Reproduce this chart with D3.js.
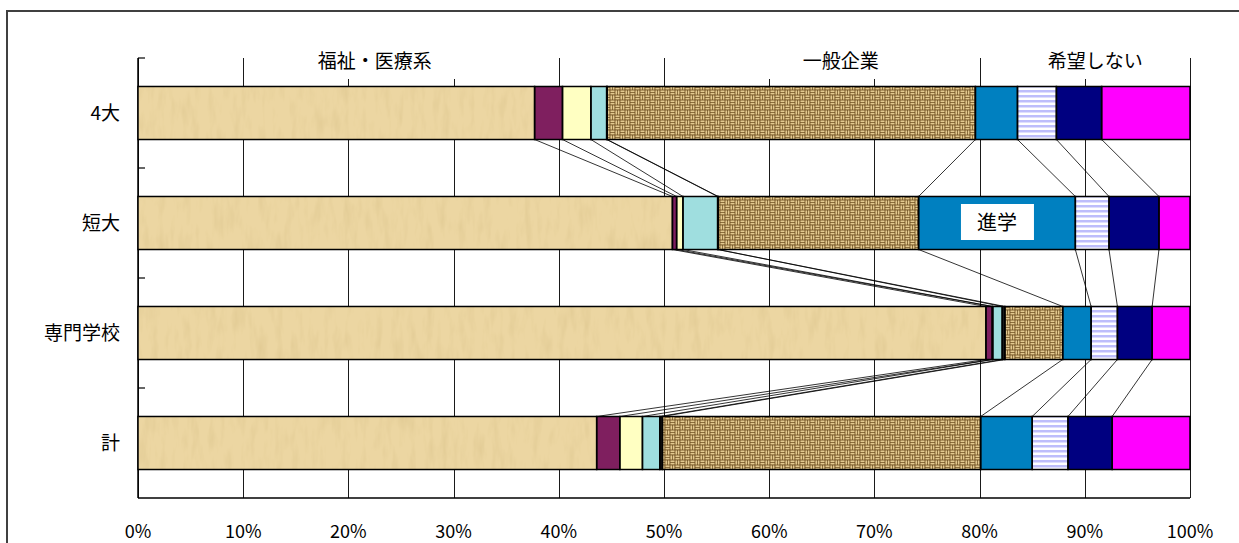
<!DOCTYPE html>
<html><head><meta charset="utf-8">
<script src="https://cdn.jsdelivr.net/npm/d3@7"></script>
<style>
body{margin:0;background:#fff}
svg{display:block}
text{font-family:"Noto Sans CJK JP","Noto Sans",sans-serif;fill:#000}
</style>
</head><body>
<svg id="chart" width="1239" height="543"></svg>
<script>
// ---- data ----
const categories = ["4大", "短大", "専門学校", "計"];
const seriesKeys = ["福祉医療A", "福祉医療B", "福祉医療C", "福祉医療D", "福祉医療E", "一般企業", "進学", "進学その他", "未定", "希望しない"];
const fukushiA   = [37.7, 50.8, 80.6, 43.6];
const fukushiB   = [2.65, 0.4, 0.6, 2.2];
const fukushiC   = [2.7, 0.6, 0.05, 2.15];
const fukushiD   = [1.5, 3.3, 0.9, 1.65];
const fukushiE   = [0.05, 0.05, 0.25, 0.25];
const ippan      = [35.0, 19.05, 5.5, 30.25];
const shingaku   = [4.0, 14.9, 2.7, 4.9];
const sonota     = [3.7, 3.2, 2.5, 3.4];
const mitei      = [4.3, 4.75, 3.3, 4.2];
const kibouNashi = [8.4, 2.95, 3.6, 7.4];
const xTickValues = [0, 10, 20, 30, 40, 50, 60, 70, 80, 90, 100];
const xTickLabels = ["0%", "10%", "20%", "30%", "40%", "50%", "60%", "70%", "80%", "90%", "100%"];
const groupLabels = ["福祉・医療系", "一般企業", "希望しない"];
const groupLabelValues = [22.5, 66.8, 91.0];
const innerLabel = "進学";

// ---- build table ----
const seriesArrays = [fukushiA, fukushiB, fukushiC, fukushiD, fukushiE, ippan, shingaku, sonota, mitei, kibouNashi];
const table = categories.map((c, i) => {
  const row = {cat: c};
  seriesKeys.forEach((k, j) => row[k] = seriesArrays[j][i]);
  return row;
});
const stacked = d3.stack().keys(seriesKeys)(table);

const fills = ["url(#parch)", "#7F1F5F", "#FFFFC2", "#9FDEDF", "#1a1a1a", "url(#weave)", "#0080C0", "url(#stripe)", "#000080", "#FF00FF"];

// ---- layout ----
const svg = d3.select("#chart");
const x = d3.scaleLinear().domain([0, 100]).range([138, 1190]);
const y = d3.scaleBand().domain(categories).range([58, 498]).paddingInner(0.518).paddingOuter(0.259);

// defs
const defs = svg.append("defs");
const fp = defs.append("filter").attr("id", "parchF").attr("x", 0).attr("y", 0).attr("width", 1).attr("height", 1);
fp.append("feTurbulence").attr("type", "fractalNoise").attr("baseFrequency", "0.12 0.03").attr("numOctaves", 3).attr("seed", 4).attr("result", "n");
fp.append("feColorMatrix").attr("in", "n").attr("type", "matrix")
  .attr("values", "0 0 0 0 0.76  0 0 0 0 0.60  0 0 0 0 0.30  2.0 0 0 0 -0.90").attr("result", "s");
fp.append("feComposite").attr("in", "s").attr("in2", "SourceGraphic").attr("operator", "atop");
const pp = defs.append("pattern").attr("id", "parch").attr("patternUnits", "userSpaceOnUse").attr("width", 1239).attr("height", 543);
pp.append("rect").attr("width", 1239).attr("height", 543).attr("fill", "#ECD6A2").attr("filter", "url(#parchF)");

const T = 10, h = T / 2;
const pw = defs.append("pattern").attr("id", "weave").attr("patternUnits", "userSpaceOnUse").attr("width", T).attr("height", T);
pw.append("rect").attr("width", T).attr("height", T).attr("fill", "#6A4A1C");
const weaveLight = "#E3C98F";
[[0,0],[h,h]].forEach(([ox,oy]) => {
  pw.append("rect").attr("x", ox + 0.4).attr("y", oy + 0.4).attr("width", h - 0.8).attr("height", 1.7).attr("fill", weaveLight);
  pw.append("rect").attr("x", ox + 0.4).attr("y", oy + 2.8).attr("width", h - 0.8).attr("height", 1.7).attr("fill", weaveLight);
});
[[h,0],[0,h]].forEach(([ox,oy]) => {
  pw.append("rect").attr("x", ox + 0.4).attr("y", oy + 0.4).attr("width", 1.7).attr("height", h - 0.8).attr("fill", weaveLight);
  pw.append("rect").attr("x", ox + 2.8).attr("y", oy + 0.4).attr("width", 1.7).attr("height", h - 0.8).attr("fill", weaveLight);
});

const ps = defs.append("pattern").attr("id", "stripe").attr("patternUnits", "userSpaceOnUse").attr("width", 4).attr("height", 5);
ps.append("rect").attr("width", 4).attr("height", 5).attr("fill", "#FFFFFF");
ps.append("rect").attr("width", 4).attr("height", 2.5).attr("fill", "#BDBDFB");

// outer frame
svg.append("rect").attr("x", 7).attr("y", 11).attr("width", 1400).attr("height", 700)
  .attr("fill", "none").attr("stroke", "#404040").attr("stroke-width", 2);

// gridlines
const [yTop, yBot] = y.range();
svg.append("g").selectAll("line").data(xTickValues).join("line")
  .attr("x1", d => Math.round(x(d)) + 0.5).attr("x2", d => Math.round(x(d)) + 0.5)
  .attr("y1", yTop).attr("y2", yBot)
  .attr("stroke", "#1a1a1a").attr("stroke-width", 1);

// group labels with white boxes
const gl = svg.append("g");
groupLabels.forEach((t, i) => {
  const g = gl.append("g");
  const txt = g.append("text").attr("x", x(groupLabelValues[i])).attr("y", 61).attr("dy", "0.36em")
    .attr("text-anchor", "middle").attr("font-size", 19).text(t);
  const w = txt.node().getComputedTextLength();
  g.insert("rect", "text").attr("x", x(groupLabelValues[i]) - w / 2 - 45).attr("y", 44)
    .attr("width", w + 90).attr("height", 35).attr("fill", "#fff");
});

// axes lines
svg.append("line").attr("x1", x(0)).attr("x2", x(0)).attr("y1", yTop).attr("y2", yBot).attr("stroke", "#000").attr("stroke-width", 1.5);
svg.append("line").attr("x1", x(0)).attr("x2", x(100)).attr("y1", yBot).attr("y2", yBot).attr("stroke", "#000").attr("stroke-width", 1.5);
const boundaries = categories.map(c => y(c) - y.step() * y.paddingInner() / 2);
svg.append("g").selectAll("line").data(boundaries).join("line")
  .attr("x1", x(0)).attr("x2", x(0) + 7).attr("y1", d => d).attr("y2", d => d)
  .attr("stroke", "#000").attr("stroke-width", 1.2);

// connector lines
const conn = svg.append("g");
stacked.slice(0, -1).forEach(s => {
  for (let i = 0; i < categories.length - 1; i++) {
    conn.append("line")
      .attr("x1", x(s[i][1])).attr("y1", y(categories[i]) + y.bandwidth())
      .attr("x2", x(s[i + 1][1])).attr("y2", y(categories[i + 1]))
      .attr("stroke", "#000").attr("stroke-width", 0.8);
  }
});

// bars: fills
const bars = svg.append("g");
stacked.forEach((s, j) => {
  bars.append("g").selectAll("rect").data(s).join("rect")
    .attr("x", d => x(d[0])).attr("width", d => x(d[1]) - x(d[0]))
    .attr("y", d => y(d.data.cat)).attr("height", y.bandwidth())
    .attr("fill", fills[j]);
});
// bars: outlines
stacked.forEach((s, j) => {
  bars.append("g").selectAll("rect").data(s).join("rect")
    .attr("x", d => x(d[0])).attr("width", d => x(d[1]) - x(d[0]))
    .attr("y", d => y(d.data.cat)).attr("height", y.bandwidth())
    .attr("fill", "none").attr("stroke", "#000").attr("stroke-width", 1.5);
});

// inner label 進学 on 短大
const sh = stacked[seriesKeys.indexOf("進学")][categories.indexOf("短大")];
const cx = (x(sh[0]) + x(sh[1])) / 2, cy = y("短大") + y.bandwidth() / 2;
const ig = svg.append("g");
ig.append("rect").attr("x", cx - 36).attr("y", cy - 19).attr("width", 73).attr("height", 36).attr("fill", "#fff");
ig.append("text").attr("x", cx).attr("y", cy).attr("dy", "0.36em").attr("text-anchor", "middle").attr("font-size", 20).text(innerLabel);

// category labels
svg.append("g").selectAll("text").data(categories).join("text")
  .attr("x", 120).attr("y", d => y(d) + y.bandwidth() / 2).attr("dy", "0.36em")
  .attr("text-anchor", "end").attr("font-size", 19).text(d => d);

// x tick labels
svg.append("g").selectAll("text").data(xTickValues).join("text")
  .attr("x", d => x(d)).attr("y", 532).attr("dy", "0.36em")
  .attr("text-anchor", "middle").attr("font-size", 18).text((d, i) => xTickLabels[i]);
</script>
</body></html>
